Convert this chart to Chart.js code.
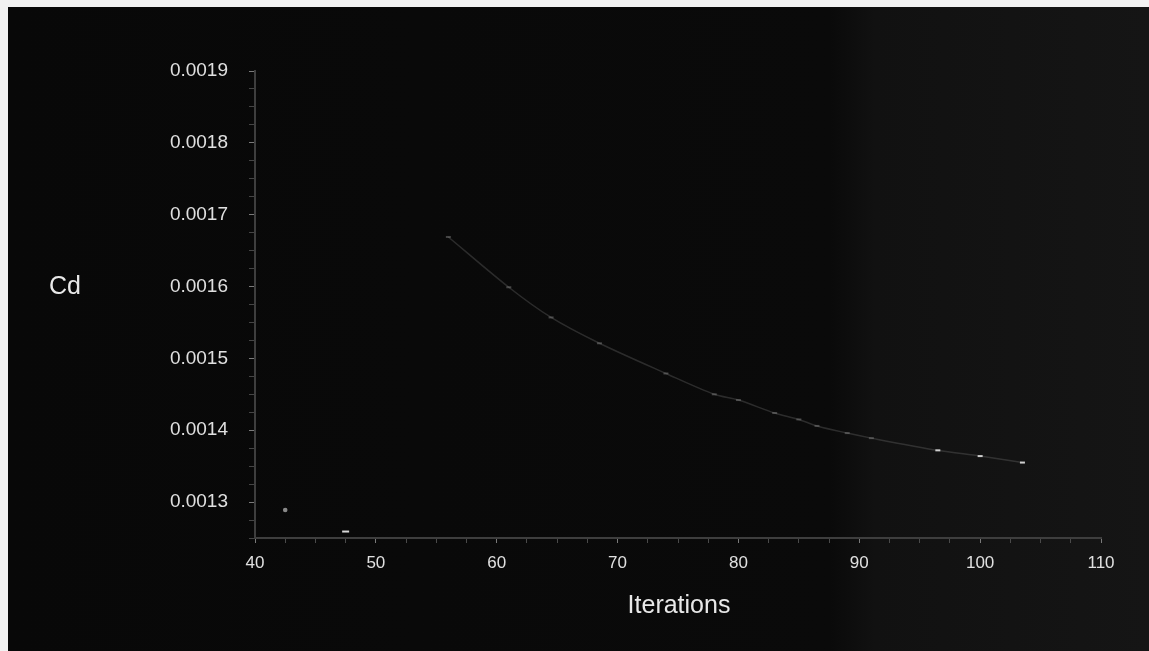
<!DOCTYPE html>
<html>
<head>
<meta charset="utf-8">
<script src="https://cdn.jsdelivr.net/npm/chart.js@4/dist/chart.umd.min.js"></script>
<style>
  html, body { margin: 0; padding: 0; background: #f2f2f2; }
  canvas { display: block; }
</style>
</head>
<body>
<canvas id="cdChart" width="1149" height="651"></canvas>
<script>
// drag coefficient vs iterations
const iterations = [56, 61, 64.5, 68.5, 74, 78, 80, 83, 85, 86.5, 89, 91, 96.5, 100, 103.5];
const cdValues = [0.001669, 0.001599, 0.001557, 0.001521, 0.001479, 0.00145, 0.001442, 0.001424,
                  0.001415, 0.001406, 0.001396, 0.001389, 0.001372, 0.001364, 0.001355];
// two lone marks near the start
const strayIterations = [42.5, 47.5];
const strayValues = [0.001289, 0.001259];

const xTitle = "Iterations";
const yTitle = "Cd";

const curve = iterations.map((x, i) => ({ x: x, y: cdValues[i] }));
const stray = strayIterations.map((x, i) => ({ x: x, y: strayValues[i] }));

const isMajorY = v => Math.round(v * 1e6) % 100 === 0 && v > 0.00126;
const isMajorX = v => Math.round(v * 10) % 100 === 0;

// dark screen on a light page + the two hand placed axis titles
const screenPlugin = {
    id: "screen",
    beforeDraw(chart) {
        const c = chart.ctx;
        c.save();
        c.fillStyle = "#f2f2f2";
        c.fillRect(0, 0, chart.width, chart.height);
        const g = c.createLinearGradient(8, 0, chart.width, 0);
        g.addColorStop(0, "#080808");
        g.addColorStop(0.72, "#0a0a0a");
        g.addColorStop(0.76, "#111111");
        g.addColorStop(1, "#151515");
        c.fillStyle = g;
        c.fillRect(8, 7, chart.width - 8, chart.height - 7);
        c.restore();
    },
    afterDraw(chart) {
        const c = chart.ctx;
        const y = chart.scales.y;
        const a = chart.chartArea;
        c.save();
        c.fillStyle = "#e8e8e8";
        c.textAlign = "center";
        c.textBaseline = "middle";
        c.font = "25px 'Liberation Sans', Arial, sans-serif";
        c.fillText(yTitle, 65, y.getPixelForValue(0.0016) + 1);
        c.fillText(xTitle, (a.left + a.right) / 2 + 1, 606);
        c.restore();
    }
};

new Chart(document.getElementById("cdChart"), {
    type: "scatter",
    data: {
        datasets: [
            {
                label: "Cd",
                data: curve,
                showLine: true,
                borderColor: "rgba(110,110,110,0.35)",
                borderWidth: 1.5,
                tension: 0.3,
                pointStyle: "line",
                pointRadius: 2.5,
                pointBorderWidth: 2,
                pointBorderColor: ctx => ctx.dataIndex >= iterations.length - 3 ? "#cfcfcf" : "rgba(140,140,140,0.45)"
            },
            {
                label: "start",
                data: stray,
                pointStyle: ["circle", "line"],
                pointRadius: [1.3, 3.5],
                pointBorderWidth: 2,
                pointBackgroundColor: "#999999",
                pointBorderColor: ["#888888", "#d8d8d8"]
            }
        ]
    },
    options: {
        responsive: false,
        maintainAspectRatio: false,
        animation: false,
        layout: { padding: { left: 0, top: 71, right: 48, bottom: 0 } },
        plugins: { legend: { display: false }, tooltip: { enabled: false } },
        scales: {
            x: {
                type: "linear",
                min: 40,
                max: 110,
                afterFit: s => { s.height = 113; },
                border: { color: "#3e3e3e", width: 2 },
                grid: {
                    drawOnChartArea: false,
                    tickLength: 5,
                    tickColor: ctx => isMajorX(ctx.tick.value) ? "#7a7a7a" : "#4a4a4a"
                },
                ticks: {
                    stepSize: 2.5,
                    autoSkip: false,
                    maxRotation: 0,
                    padding: 10,
                    color: "#e0e0e0",
                    font: { family: "'Liberation Sans', Arial, sans-serif", size: 17 },
                    callback: v => isMajorX(v) ? String(Math.round(v)) : ""
                }
            },
            y: {
                min: 0.00125,
                max: 0.0019,
                afterFit: s => { s.width = 255; },
                border: { color: "#3e3e3e", width: 2 },
                grid: {
                    drawOnChartArea: false,
                    tickLength: 6,
                    tickColor: ctx => isMajorY(ctx.tick.value) ? "#7a7a7a" : "#454545"
                },
                ticks: {
                    stepSize: 0.000025,
                    autoSkip: false,
                    padding: 21,
                    color: "#e0e0e0",
                    font: { family: "'Liberation Sans', Arial, sans-serif", size: 19 },
                    callback: v => isMajorY(v) ? v.toFixed(4) : ""
                }
            }
        }
    },
    plugins: [screenPlugin]
});
</script>
</body>
</html>
